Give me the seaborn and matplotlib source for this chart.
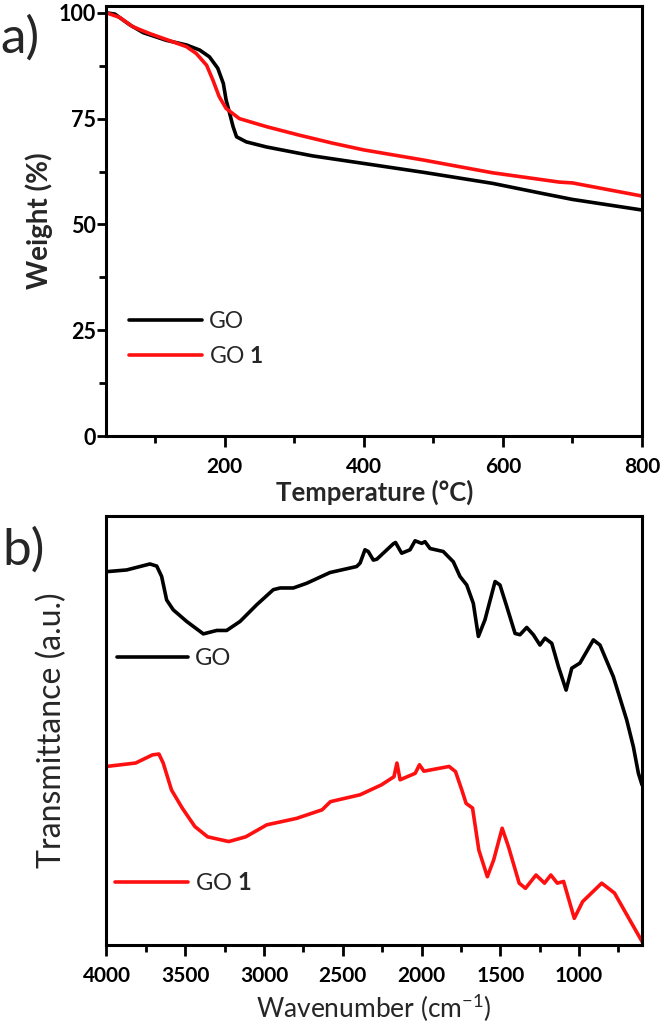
import pandas as pd
import matplotlib.pyplot as plt
import seaborn as sns
from matplotlib.ticker import MultipleLocator

# panel a) TGA
go_temp = [30, 42, 64, 83, 116, 145, 164, 178, 190, 198, 202, 207, 212, 217, 231, 260, 326, 400, 486, 585, 657, 700, 800]
go_weight = [100, 99.7, 97.1, 95.3, 93.5, 92.4, 91.2, 89.6, 86.9, 83.3, 79.4, 76.3, 73.1, 70.7, 69.5, 68.3, 66.2, 64.4, 62.3, 59.7, 57.3, 55.9, 53.4]
go1_temp = [30, 49, 68, 92, 116, 145, 159, 174, 183, 192, 202, 221, 260, 307, 355, 400, 486, 585, 681, 700, 800]
go1_weight = [100, 98.9, 96.7, 95.1, 93.7, 92.0, 90.4, 87.6, 84.1, 80.2, 77.4, 75.0, 73.1, 71.1, 69.2, 67.6, 65.2, 62.2, 60.0, 59.8, 56.7]

# panel b) FTIR, arbitrary units
go_wn = [4000, 3872, 3724, 3681, 3650, 3618, 3576, 3491, 3385, 3300, 3237, 3152, 3046, 2941, 2898,
         2814, 2729, 2581, 2412, 2390, 2359, 2338, 2306, 2284, 2179, 2165, 2126, 2073, 2041, 1999,
         1978, 1946, 1862, 1798, 1756, 1713, 1671, 1639, 1597, 1533, 1502, 1459, 1406, 1375, 1332,
         1290, 1248, 1216, 1173, 1131, 1082, 1046, 994, 909, 867, 782, 697, 655, 623, 600]
go_tr = [87.0, 87.4, 88.8, 88.3, 85.9, 80.4, 78.1, 75.4, 72.5, 73.3, 73.3, 75.4, 79.3, 82.8, 83.2,
         83.2, 84.3, 86.8, 88.2, 89.0, 92.1, 91.7, 89.7, 89.9, 93.5, 93.8, 91.3, 92.1, 94.2, 93.6,
         94.0, 92.4, 91.7, 89.3, 85.9, 83.9, 79.6, 71.9, 75.8, 84.7, 83.9, 78.9, 72.6, 72.3, 74.0,
         72.3, 69.9, 71.5, 70.3, 64.9, 59.4, 64.5, 65.7, 71.1, 69.9, 62.5, 52.4, 46.2, 40.0, 37.3]
go1_wn = [4000, 3815, 3708, 3667, 3640, 3587, 3519, 3439, 3358, 3224, 3116, 2982, 2793, 2631, 2578,
          2390, 2255, 2175, 2156, 2136, 2040, 2013, 1985, 1825, 1784, 1744, 1717, 1676, 1636, 1582,
          1542, 1488, 1448, 1380, 1340, 1273, 1219, 1179, 1138, 1098, 1030, 977, 856, 775, 600]
go1_tr = [41.6, 42.4, 44.3, 44.5, 42.4, 36.1, 31.9, 27.6, 25.2, 24.1, 25.2, 28.0, 29.5, 31.5, 33.4,
          35.0, 37.3, 39.2, 42.4, 38.5, 40.0, 42.0, 40.5, 41.6, 40.4, 36.1, 33.0, 31.9, 22.1, 15.9,
          19.8, 27.2, 22.9, 14.4, 13.2, 16.3, 14.4, 16.3, 14.4, 14.8, 6.2, 10.1, 14.4, 12.1, 0.8]

sns.set_theme(style='ticks')
plt.rcParams['font.family'] = ['Lato', 'DejaVu Sans']
plt.rcParams['mathtext.fontset'] = 'custom'
plt.rcParams['mathtext.rm'] = 'Lato'
plt.rcParams['mathtext.bf'] = 'Lato:bold'
plt.rcParams['axes.linewidth'] = 2.2
plt.rcParams['axes.edgecolor'] = 'black'

fig = plt.figure(figsize=(6.61, 10.23), dpi=100)
ax1 = fig.add_axes([0.1611, 0.5738, 0.8102, 0.4203])
ax2 = fig.add_axes([0.1611, 0.0763, 0.8102, 0.4194])

BLACK = '#000000'
RED = '#ff1010'
LW = 2.6

# --- panel a
sns.lineplot(x=go_temp, y=go_weight, ax=ax1, color=BLACK, lw=LW, sort=False)
sns.lineplot(x=go1_temp, y=go1_weight, ax=ax1, color=RED, lw=LW, sort=False)
ax1.set_xlim(30, 800)
ax1.set_ylim(0, 101.6)
ax1.xaxis.set_major_locator(MultipleLocator(200))
ax1.xaxis.set_minor_locator(MultipleLocator(100))
ax1.yaxis.set_major_locator(MultipleLocator(25))
ax1.yaxis.set_minor_locator(MultipleLocator(12.5))
ax1.set_xlabel('Temperature (°C)', fontsize=18.5, fontweight='bold', labelpad=2)
ax1.set_ylabel('Weight (%)', fontsize=20, fontweight='bold')
ax1.yaxis.set_label_coords(-0.1, 0.5)
ax1.tick_params(axis='x', which='major', length=8, width=2, labelsize=15, pad=7, direction='out', colors='black')
ax1.tick_params(axis='y', which='major', length=6.5, width=2, labelsize=15.5, pad=1, direction='out', colors='black')
ax1.tick_params(which='minor', length=5, width=2, direction='out', colors='black')
plt.setp(ax1.get_xticklabels() + ax1.get_yticklabels(), fontweight='bold')

ax1.legend(ax1.lines[:2], ['GO', 'GO $\\mathbf{1}$'], loc='center left',
           bbox_to_anchor=(0.042, 0.2256), frameon=False, fontsize=16.5,
           handlelength=3.2, handletextpad=0.3, labelspacing=0.65,
           borderpad=0, borderaxespad=0)

# --- panel b
sns.lineplot(x=go_wn, y=go_tr, ax=ax2, color=BLACK, lw=LW, sort=False)
sns.lineplot(x=go1_wn, y=go1_tr, ax=ax2, color=RED, lw=LW, sort=False)
ax2.set_xlim(4000, 600)
ax2.set_ylim(0, 100)
ax2.set_yticks([])
ax2.xaxis.set_major_locator(MultipleLocator(500))
ax2.xaxis.set_minor_locator(MultipleLocator(250))
ax2.set_xlabel('Wavenumber (cm$^{-1}$)', fontsize=19, labelpad=4)
ax2.set_ylabel('Transmittance (a.u.)', fontsize=23)
ax2.yaxis.set_label_coords(-0.074, 0.5)
ax2.tick_params(axis='x', which='major', length=8, width=2, labelsize=15, pad=7, direction='out', colors='black')
ax2.tick_params(axis='x', which='minor', length=5, width=2, direction='out', colors='black')
plt.setp(ax2.get_xticklabels(), fontweight='bold')

leg_go = ax2.legend([ax2.lines[0]], ['GO'], loc='center left', bbox_to_anchor=(0.0196, 0.667),
                    frameon=False, fontsize=17, handlelength=3.0, handletextpad=0.3,
                    borderpad=0, borderaxespad=0)
ax2.add_artist(leg_go)
ax2.legend([ax2.lines[1]], ['GO $\\mathbf{1}$'], loc='center left', bbox_to_anchor=(0.016, 0.1445),
           frameon=False, fontsize=17, handlelength=3.1, handletextpad=0.3,
           borderpad=0, borderaxespad=0)

fig.text(0.0, 0.963, 'a)', fontsize=37, va='center', ha='left')
fig.text(0.004, 0.4624, 'b)', fontsize=37, va='center', ha='left')

fig.savefig('out.png', dpi=100)
